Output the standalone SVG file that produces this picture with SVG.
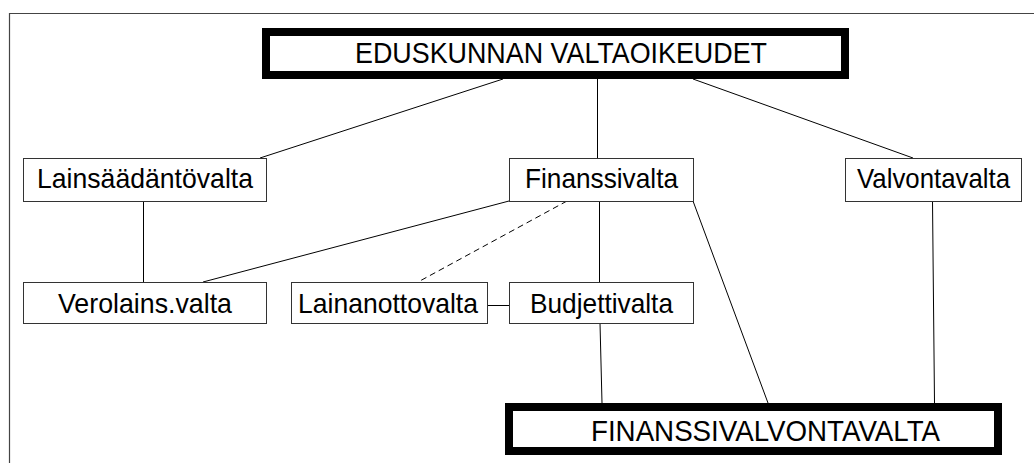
<svg xmlns="http://www.w3.org/2000/svg" width="1034" height="463" viewBox="0 0 1034 463">
<style>
.frame{fill:none;stroke:#444;stroke-width:1.2}
.box{fill:#fff;stroke:#333;stroke-width:1}
.big{fill:#fff;stroke:#000;stroke-width:8}
.t{font-family:"Liberation Sans",Arial,sans-serif;font-size:28px;fill:#000}
.bt{font-family:"Liberation Sans",Arial,sans-serif;font-size:30px;fill:#000}
.c line{stroke:#000;stroke-width:1}
.dash{stroke-dasharray:6 4}
</style>
<rect width="1034" height="463" fill="#fff"/>
<path class="frame" d="M9.5,470 V13.5 H1040"/>
<g class="c" id="connectors">
<line x1="503" y1="79" x2="260" y2="158"/>
<line x1="597.5" y1="79" x2="597.5" y2="158"/>
<line x1="693" y1="79" x2="913" y2="158"/>
<line x1="143.5" y1="201" x2="143.5" y2="282"/>
<line x1="509" y1="201" x2="203" y2="282"/>
<line class="dash" x1="567" y1="201" x2="418" y2="282"/>
<line x1="599.5" y1="201" x2="599.5" y2="282"/>
<line x1="487" y1="305.5" x2="509" y2="305.5"/>
<line x1="693" y1="201" x2="768" y2="403"/>
<line x1="600" y1="323" x2="602" y2="403"/>
<line x1="932.5" y1="201" x2="934.5" y2="403"/>
</g>
<g id="n-eduskunta">
<rect class="big" x="266" y="32" width="579" height="43"/>
<text class="bt" x="355" y="63" textLength="412" lengthAdjust="spacingAndGlyphs">EDUSKUNNAN VALTAOIKEUDET</text>
</g>
<g id="n-lainsaadanto">
<rect class="box" x="23.5" y="158.5" width="243" height="43"/>
<text class="t" x="37" y="188" textLength="216" lengthAdjust="spacingAndGlyphs">Lainsäädäntövalta</text>
</g>
<g id="n-finanssi">
<rect class="box" x="509.5" y="158.5" width="184" height="43"/>
<text class="t" x="525" y="188" textLength="153" lengthAdjust="spacingAndGlyphs">Finanssivalta</text>
</g>
<g id="n-valvonta">
<rect class="box" x="845.5" y="158.5" width="176" height="43"/>
<text class="t" x="857" y="188" textLength="153" lengthAdjust="spacingAndGlyphs">Valvontavalta</text>
</g>
<g id="n-verolains">
<rect class="box" x="23.5" y="282.5" width="243" height="41"/>
<text class="t" x="58" y="313" textLength="174" lengthAdjust="spacingAndGlyphs">Verolains.valta</text>
</g>
<g id="n-lainanotto">
<rect class="box" x="291.5" y="282.5" width="196" height="41"/>
<text class="t" x="298" y="313" textLength="180" lengthAdjust="spacingAndGlyphs">Lainanottovalta</text>
</g>
<g id="n-budjetti">
<rect class="box" x="509.5" y="282.5" width="184" height="41"/>
<text class="t" x="530" y="313" textLength="143" lengthAdjust="spacingAndGlyphs">Budjettivalta</text>
</g>
<g id="n-finanssivalvonta">
<rect class="big" x="509" y="407" width="489" height="44"/>
<text class="bt" x="591" y="441" textLength="349" lengthAdjust="spacingAndGlyphs">FINANSSIVALVONTAVALTA</text>
</g>
</svg>
